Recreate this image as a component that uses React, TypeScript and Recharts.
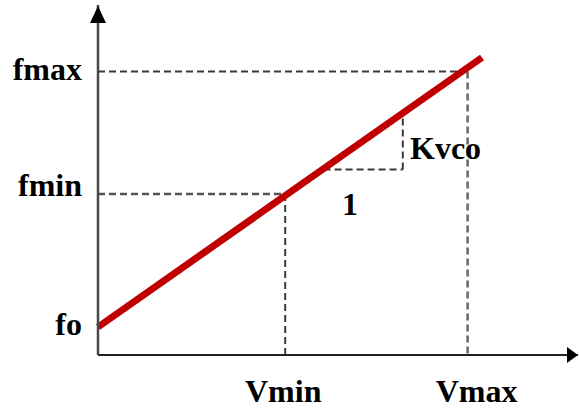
import React from 'react';
import { ComposedChart, Line, XAxis, YAxis, ReferenceLine, ReferenceDot } from 'recharts';

// control voltage (x) and output frequency (y), in chart units 0..100
const voltageTicks = [39, 77];
const voltageLabels = ['Vmin', 'Vmax'];
const freqTicks = [8, 46, 81];
const freqLabels = ['fo', 'fmin', 'fmax'];
const tuningV = [0, 80];
const tuningF = [8, 85];
// slope triangle (run of 1, rise of Kvco)
const slopeRunV = [47, 63.5];
const slopeRiseF = [53, 69];
const slopeText = ['1', 'Kvco'];
const slopeTextV = [52.5, 65];
const slopeTextF = [40, 56];

const FONT = "'Liberation Serif', 'Times New Roman', serif";
const DASH = '7 4';
const GUIDE = '#3a3a3a';
const textStyle = { fontFamily: FONT, fontWeight: 700, fontSize: 32 };

const curve = tuningV.map((v, i) => ({ v, f: tuningF[i] }));

const labelFor = (ticks: number[], labels: string[], value: number) =>
    labels[ticks.indexOf(value)] ?? '';

const FreqTick = (props: any) => {
    const { x, y, payload } = props;
    const name = labelFor(freqTicks, freqLabels, payload.value);
    const dy = name === 'fmin' ? 2 : 8;
    return (
        <text x={x - 16} y={y + dy} textAnchor="end" style={textStyle} fill="#000">
            {name}
        </text>
    );
};

const VoltTick = (props: any) => {
    const { x, y, payload } = props;
    const name = labelFor(voltageTicks, voltageLabels, payload.value);
    const dx = name === 'Vmax' ? 9 : -2;
    return (
        <text x={x + dx} y={y + 47} textAnchor="middle" style={textStyle} fill="#000">
            {name}
        </text>
    );
};

const App: React.FC = () => {
    const [, fmin, fmax] = freqTicks;
    const [vmin, vmax] = voltageTicks;
    return (
        <div style={{ width: 579, height: 410 }}>
            <style>{`body{margin:0;background:#fff}`}</style>
            <ComposedChart width={579} height={410} data={curve} margin={{ top: 5, right: 1, bottom: 0, left: 0 }}>
                <XAxis
                    type="number"
                    dataKey="v"
                    domain={[0, 100]}
                    ticks={voltageTicks}
                    height={55}
                    tickSize={0}
                    tickMargin={0}
                    tickLine={false}
                    axisLine={{ stroke: '#222', strokeWidth: 2 }}
                    tick={<VoltTick />}
                    interval={0}
                />
                <YAxis
                    type="number"
                    domain={[0, 100]}
                    ticks={freqTicks}
                    width={98}
                    tickSize={0}
                    tickMargin={0}
                    tickLine={false}
                    axisLine={{ stroke: '#4a4a4a', strokeWidth: 2.5 }}
                    tick={<FreqTick />}
                    interval={0}
                />
                <ReferenceLine segment={[{ x: 0, y: fmax }, { x: vmax, y: fmax }]} stroke={GUIDE} strokeWidth={2} strokeDasharray={DASH} />
                <ReferenceLine segment={[{ x: vmax, y: fmax }, { x: vmax, y: 0 }]} stroke="#666" strokeWidth={2.5} strokeDasharray={DASH} />
                <ReferenceLine segment={[{ x: 0, y: fmin }, { x: vmin, y: fmin }]} stroke="#555" strokeWidth={2.5} strokeDasharray={DASH} />
                <ReferenceLine segment={[{ x: vmin, y: fmin }, { x: vmin, y: 0 }]} stroke={GUIDE} strokeWidth={2} strokeDasharray={DASH} />
                <ReferenceLine segment={[{ x: slopeRunV[0], y: slopeRiseF[0] }, { x: slopeRunV[1], y: slopeRiseF[0] }]} stroke={GUIDE} strokeWidth={2} strokeDasharray={DASH} />
                <ReferenceLine segment={[{ x: slopeRunV[1], y: slopeRiseF[0] }, { x: slopeRunV[1], y: slopeRiseF[1] }]} stroke={GUIDE} strokeWidth={2} strokeDasharray={DASH} />
                <Line
                    type="linear"
                    dataKey="f"
                    stroke="#c00000"
                    strokeWidth={7}
                    dot={false}
                    activeDot={false}
                    isAnimationActive={false}
                />
                {slopeText.map((t, i) => (
                    <ReferenceDot
                        key={t}
                        x={slopeTextV[i]}
                        y={slopeTextF[i]}
                        ifOverflow="visible"
                        shape={(p: any) => (
                            <text
                                x={p.cx}
                                y={p.cy}
                                textAnchor={i === 0 ? 'middle' : 'start'}
                                style={textStyle}
                                fill="#000"
                            >
                                {t}
                            </text>
                        )}
                    />
                ))}
                {/* axis arrowheads */}
                <ReferenceDot
                    x={0}
                    y={100}
                    ifOverflow="visible"
                    shape={(p: any) => (
                        <polygon points={`${p.cx},${p.cy + 1} ${p.cx - 8},${p.cy + 18} ${p.cx + 8},${p.cy + 18}`} fill="#000" />
                    )}
                />
                <ReferenceDot
                    x={100}
                    y={0}
                    ifOverflow="visible"
                    shape={(p: any) => (
                        <polygon points={`${p.cx},${p.cy} ${p.cx - 11},${p.cy - 8} ${p.cx - 11},${p.cy + 8}`} fill="#000" />
                    )}
                />
            </ComposedChart>
        </div>
    );
};

export default App;
